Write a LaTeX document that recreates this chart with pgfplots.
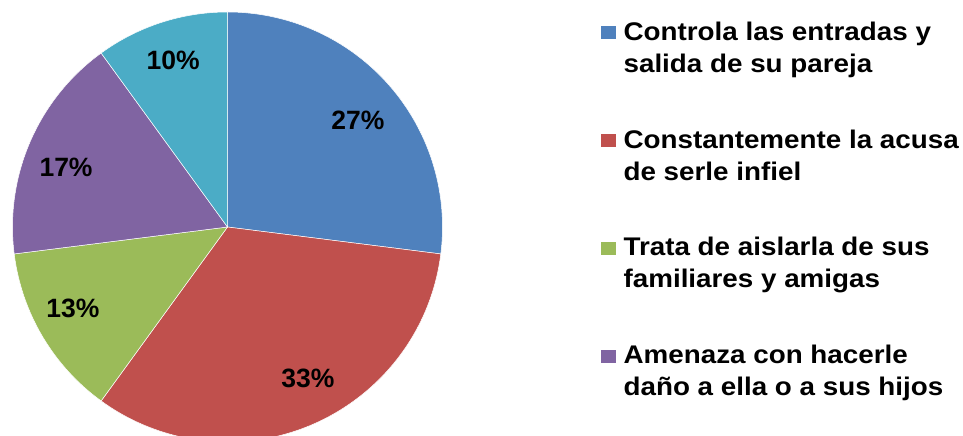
\documentclass[border=0pt]{standalone}
\usepackage{fontspec}
\setmainfont{Liberation Sans}
\newfontfamily\legfont[FakeStretch=1.09]{Liberation Sans}
\usepackage{pgfplots}
\usepackage{pgfplotstable}
\pgfplotsset{compat=1.18}

\definecolor{slc0}{HTML}{4F81BD}
\definecolor{slc1}{HTML}{C0504D}
\definecolor{slc2}{HTML}{9BBB59}
\definecolor{slc3}{HTML}{8064A2}
\definecolor{slc4}{HTML}{4BACC6}

% share of each answer, clockwise from 12 o'clock,
% with where its label sits (axis units, pie radius = 1)
\pgfplotstableread{
value labx laby
27  0.607  0.498
33  0.374 -0.702
13 -0.719 -0.377
17 -0.751  0.279
10 -0.253  0.777
}\piedata

\newcommand\chartfont{\fontsize{26.5}{32}\selectfont\bfseries}
\newcommand\legentry[2]{\parbox[t]{345pt}{\strut #1\\\strut #2}}

\begin{document}
\begin{tikzpicture}
\useasboundingbox (0pt,0pt) rectangle (963pt,436pt);
% start and end angle of every slice
\xdef\cum{0}
\foreach \i in {0,...,4}{%
  \pgfplotstablegetelem{\i}{value}\of\piedata
  \let\v\pgfplotsretval
  \pgfmathsetmacro\a{90-3.6*\cum}
  \pgfmathsetmacro\b{90-3.6*(\cum+\v)}
  \expandafter\xdef\csname pieA\i\endcsname{\a}
  \expandafter\xdef\csname pieB\i\endcsname{\b}
  \expandafter\xdef\csname pieV\i\endcsname{\v}
  \pgfplotstablegetelem{\i}{labx}\of\piedata
  \expandafter\xdef\csname pieX\i\endcsname{\pgfplotsretval}
  \pgfplotstablegetelem{\i}{laby}\of\piedata
  \expandafter\xdef\csname pieY\i\endcsname{\pgfplotsretval}
  \pgfmathsetmacro\c{\cum+\v}
  \xdef\cum{\c}
}
\begin{axis}[
    hide axis,
    scale only axis,
    width=430pt, height=430pt,
    xmin=-1, xmax=1, ymin=-1, ymax=1,
    at={(227.5pt,209pt)}, anchor=center,
    clip=false,
    legend image code/.code={\fill[#1] (0pt,1.5pt) rectangle (14pt,13.5pt);},
    legend style={
        draw=none, fill=none, inner sep=0pt,
        at={(axis description cs:1.3686,0.987)}, anchor=north west,
        font=\legfont\fontsize{25.5}{32}\selectfont\bfseries,
        nodes={inner sep=0pt, anchor=base west},
        column sep=8pt, row sep=84pt,
    },
    legend cell align=left,
]
\pgfplotsinvokeforeach{0,...,4}{
  \fill[slc#1, draw=white, line width=0.5pt] (axis cs:0,0)
    -- ++(\csname pieA#1\endcsname:215pt)
    arc[start angle=\csname pieA#1\endcsname, end angle=\csname pieB#1\endcsname, radius=215pt]
    -- cycle;
}
\pgfplotsinvokeforeach{0,...,4}{
  \node[font=\chartfont] at (axis cs:\csname pieX#1\endcsname,\csname pieY#1\endcsname)
    {\csname pieV#1\endcsname\%};
}
\addlegendimage{slc0}
\addlegendentry{\legentry{Controla las entradas y}{salida de su pareja}}
\addlegendimage{slc1}
\addlegendentry{\legentry{Constantemente la acusa}{de serle infiel}}
\addlegendimage{slc2}
\addlegendentry{\legentry{Trata de aislarla de sus}{familiares y amigas}}
\addlegendimage{slc3}
\addlegendentry{\legentry{Amenaza con hacerle}{daño a ella o a sus hijos}}
\end{axis}
\end{tikzpicture}
\end{document}
